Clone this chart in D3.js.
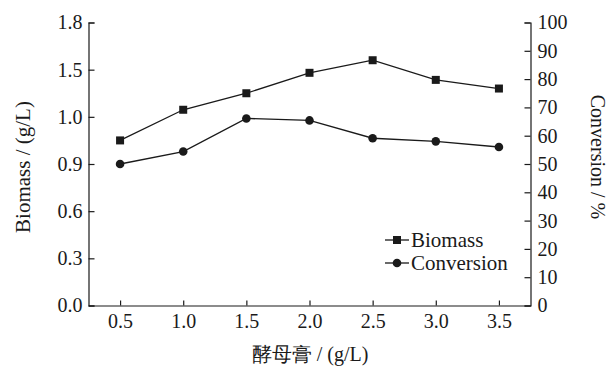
<!DOCTYPE html>
<html>
<head>
<meta charset="utf-8">
<script src="https://cdn.jsdelivr.net/npm/d3@7"></script>
<style>
  body { margin: 0; background: #fff; }
  text { font-family: "Liberation Serif", "Times New Roman", serif; fill: #1a1a1a; }
</style>
</head>
<body>
<div id="chart"></div>
<script>
// data
var doses = [0.5, 1.0, 1.5, 2.0, 2.5, 3.0, 3.5];
var biomass = [1.05, 1.245, 1.35, 1.48, 1.56, 1.435, 1.38];
var conversion = [50.0, 54.4, 66.1, 65.4, 59.1, 58.0, 56.0];

var leftTicks = [0, 0.3, 0.6, 0.9, 1.2, 1.5, 1.8];
var leftTickLabels = ["0.0", "0.3", "0.6", "0.9", "1.0", "1.5", "1.8"];
var rightTicks = [0, 10, 20, 30, 40, 50, 60, 70, 80, 90, 100];
var xTicks = [0.5, 1.0, 1.5, 2.0, 2.5, 3.0, 3.5];

var width = 611, height = 369;
var ink = "#1a1a1a";

var svg = d3.select("#chart").append("svg")
    .attr("width", width)
    .attr("height", height);

var xScale = d3.scaleLinear().domain([0.25, 3.75]).range([88.5, 530.5]);
var yLeft = d3.scaleLinear().domain([0, 1.8]).range([305.5, 22.5]);
var yRight = d3.scaleLinear().domain([0, 100]).range([305.5, 22.5]);

// axes, ticks pointing inward
var xAxis = d3.axisBottom(xScale)
    .tickValues(xTicks)
    .tickSizeInner(-5).tickSizeOuter(0)
    .tickPadding(8)
    .tickFormat(d3.format(".1f"));
var gx = svg.append("g")
    .attr("transform", "translate(0," + yLeft(0) + ")")
    .call(xAxis);

var yAxisL = d3.axisLeft(yLeft)
    .tickValues(leftTicks)
    .tickSizeInner(-6).tickSizeOuter(-6)
    .tickPadding(6)
    .tickFormat(function (d, i) { return leftTickLabels[i]; });
var gyl = svg.append("g")
    .attr("transform", "translate(" + xScale(0.25) + ",0)")
    .call(yAxisL);

var yAxisR = d3.axisRight(yRight)
    .tickValues(rightTicks)
    .tickSizeInner(-6).tickSizeOuter(-6)
    .tickPadding(7)
    .tickFormat(d3.format("d"));
var gyr = svg.append("g")
    .attr("transform", "translate(" + xScale(3.75) + ",0)")
    .call(yAxisR);

[gx, gyl, gyr].forEach(function (g) {
    g.selectAll("path, line").attr("stroke", ink).attr("stroke-width", 1.2);
    g.selectAll("text").attr("font-family", "Liberation Serif").attr("font-size", 20).attr("fill", ink);
});

// biomass series
var lineB = d3.line()
    .x(function (d, i) { return xScale(doses[i]); })
    .y(function (d) { return yLeft(d); });
svg.append("path")
    .datum(biomass)
    .attr("d", lineB)
    .attr("fill", "none")
    .attr("stroke", ink)
    .attr("stroke-width", 1.3);
svg.append("g").selectAll("rect")
    .data(biomass)
    .enter().append("rect")
    .attr("x", function (d, i) { return xScale(doses[i]) - 4; })
    .attr("y", function (d) { return yLeft(d) - 4; })
    .attr("width", 8)
    .attr("height", 8)
    .attr("fill", ink);

// conversion series
var lineC = d3.line()
    .x(function (d, i) { return xScale(doses[i]); })
    .y(function (d) { return yRight(d); });
svg.append("path")
    .datum(conversion)
    .attr("d", lineC)
    .attr("fill", "none")
    .attr("stroke", ink)
    .attr("stroke-width", 1.3);
svg.append("g").selectAll("circle")
    .data(conversion)
    .enter().append("circle")
    .attr("cx", function (d, i) { return xScale(doses[i]); })
    .attr("cy", function (d) { return yRight(d); })
    .attr("r", 4.3)
    .attr("fill", ink);

// legend
var legend = svg.append("g").attr("transform", "translate(385,0)");
var items = [{name: "Biomass", y: 240, shape: "square"}, {name: "Conversion", y: 263, shape: "circle"}];
items.forEach(function (it) {
    legend.append("line")
        .attr("x1", 0).attr("x2", 24)
        .attr("y1", it.y).attr("y2", it.y)
        .attr("stroke", ink).attr("stroke-width", 1.3);
    if (it.shape === "square") {
        legend.append("rect")
            .attr("x", 8).attr("y", it.y - 4)
            .attr("width", 8).attr("height", 8)
            .attr("fill", ink);
    } else {
        legend.append("circle")
            .attr("cx", 12).attr("cy", it.y)
            .attr("r", 4.3).attr("fill", ink);
    }
    legend.append("text")
        .attr("x", 26).attr("y", it.y + 6.5)
        .attr("font-size", 21)
        .text(it.name);
});

// axis titles
svg.append("text")
    .attr("transform", "translate(30,167) rotate(-90)")
    .attr("text-anchor", "middle")
    .attr("font-size", 21)
    .text("Biomass / (g/L)");
svg.append("text")
    .attr("transform", "translate(591,157) rotate(90)")
    .attr("text-anchor", "middle")
    .attr("font-size", 20)
    .text("Conversion / %");
svg.append("text")
    .attr("x", 310).attr("y", 361)
    .attr("text-anchor", "middle")
    .attr("font-size", 20)
    .attr("font-family", "'Liberation Serif', 'Noto Sans CJK SC', serif")
    .text("酵母膏 / (g/L)");
</script>
</body>
</html>
